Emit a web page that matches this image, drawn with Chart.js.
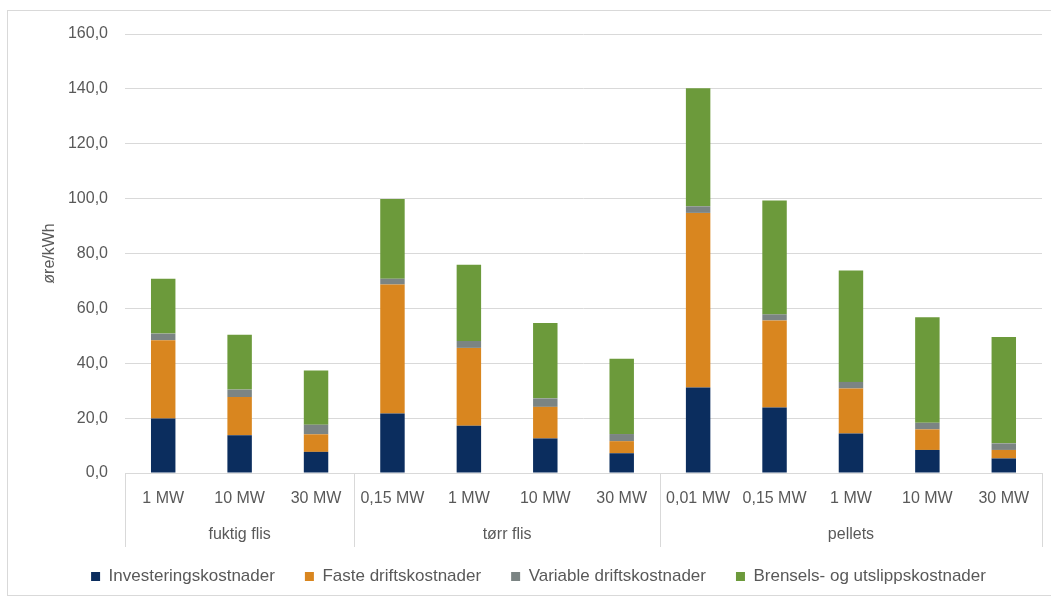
<!DOCTYPE html>
<html>
<head>
<meta charset="utf-8">
<script src="https://cdn.jsdelivr.net/npm/chart.js@4.4.1/dist/chart.umd.min.js"></script>
<style>
  html, body { margin: 0; padding: 0; background: #ffffff; overflow: hidden; }
  #wrap { position: absolute; left: 0; top: 0; width: 1051px; height: 599px; }
  #frame { position: absolute; left: 7px; top: 10px; width: 1060px; height: 586px;
           border: 1px solid #d9d9d9; box-sizing: border-box; pointer-events: none; }
</style>
</head>
<body>
<div id="wrap"><canvas id="costChart"></canvas></div>
<div id="frame"></div>
<script>
// ── Data ──────────────────────────────────────────────────────────────────────

const sizes  = ['1 MW', '10 MW', '30 MW', '0,15 MW', '1 MW', '10 MW', '30 MW',
                '0,01 MW', '0,15 MW', '1 MW', '10 MW', '30 MW'];
const groups = [
  { label: 'fuktig flis', from: 0, to: 2 },
  { label: 'tørr flis',   from: 3, to: 6 },
  { label: 'pellets',     from: 7, to: 11 }
];

const investering = [19.9, 13.8, 7.7, 21.7, 17.2, 12.6, 7.2, 31.2, 23.9, 14.4, 8.4, 5.3];
const fasteDrift  = [28.5, 13.9, 6.4, 47.0, 28.4, 11.5, 4.4, 63.6, 31.7, 16.4, 7.5, 3.1];
const variabel    = [ 2.4,  2.7, 3.5,  2.1,  2.5,  3.1, 2.6,  2.4,  2.2,  2.4, 2.4, 2.4];
const brensel     = [20.0, 20.0, 19.8, 29.1, 27.8, 27.5, 27.4, 43.0, 41.5, 40.6, 38.5, 38.8];

const yTicks = [0, 20, 40, 60, 80, 100, 120, 140, 160];

const TEXT = '#595959';
const GRID = '#d9d9d9';
const FONT = "'Liberation Sans', Arial, sans-serif";

// ── Group labels + separators under the x axis ───────────────────────────────

const groupAxisPlugin = {
  id: 'groupAxis',
  afterDraw(chart) {
    const { ctx, chartArea, scales: { x } } = chart;
    const half = (x.getPixelForValue(1) - x.getPixelForValue(0)) / 2;
    const sepBottom = chartArea.bottom + 74;
    ctx.save();
    ctx.strokeStyle = GRID;
    ctx.lineWidth = 1;
    const edges = [groups[0].from].concat(groups.map(g => g.to + 1));
    edges.forEach(i => {
      const px = Math.round(x.getPixelForValue(i) - half) + 0.5;
      ctx.beginPath();
      ctx.moveTo(px, chartArea.bottom);
      ctx.lineTo(px, sepBottom);
      ctx.stroke();
    });
    ctx.fillStyle = TEXT;
    ctx.font = '16px ' + FONT;
    ctx.textAlign = 'center';
    ctx.textBaseline = 'middle';
    groups.forEach(g => {
      const cx = (x.getPixelForValue(g.from) + x.getPixelForValue(g.to)) / 2;
      ctx.fillText(g.label, cx, chartArea.bottom + 62);
    });
    ctx.restore();
  }
};

// ── Chart ─────────────────────────────────────────────────────────────────────

const ctx = document.getElementById('costChart').getContext('2d');
new Chart(ctx, {
  type: 'bar',
  data: {
    labels: sizes,
    datasets: [
      { label: 'Investeringskostnader',          data: investering, backgroundColor: '#0b2d5e' },
      { label: 'Faste driftskostnader',          data: fasteDrift,  backgroundColor: '#d9861f' },
      { label: 'Variable driftskostnader',       data: variabel,    backgroundColor: '#7b8483' },
      { label: 'Brensels- og utslippskostnader', data: brensel,     backgroundColor: '#6c9a3b' }
    ]
  },
  options: {
    responsive: true, maintainAspectRatio: false,
    animation: false,
    categoryPercentage: 1.0,
    barPercentage: 0.32,
    layout: { padding: { left: 35, right: 9, top: 34, bottom: 4 } },
    plugins: {
      legend: {
        position: 'bottom',
        labels: {
          color: TEXT, font: { family: FONT, size: 17 },
          boxWidth: 9, boxHeight: 9, padding: 30
        }
      },
      tooltip: { enabled: false }
    },
    scales: {
      x: {
        stacked: true,
        grid: { display: false, drawTicks: false },
        border: { display: true, color: GRID },
        ticks: { color: TEXT, font: { family: FONT, size: 16 }, padding: 16, maxRotation: 0, autoSkip: false },
        afterFit: s => { s.height = 65; }
      },
      y: {
        stacked: true,
        min: 0, max: 160,
        afterBuildTicks: s => { s.ticks = yTicks.map(v => ({ value: v })); },
        grid: { color: GRID, drawTicks: false },
        border: { display: false },
        ticks: {
          color: TEXT, font: { family: FONT, size: 16 }, padding: 17,
          callback: v => v.toFixed(1).replace('.', ',')
        },
        title: {
          display: true, text: 'øre/kWh', color: TEXT,
          font: { family: FONT, size: 16 }, padding: { top: 5, bottom: 0 }
        },
        afterFit: s => { s.width = 90; }
      }
    }
  },
  plugins: [groupAxisPlugin]
});
</script>
</body>
</html>
